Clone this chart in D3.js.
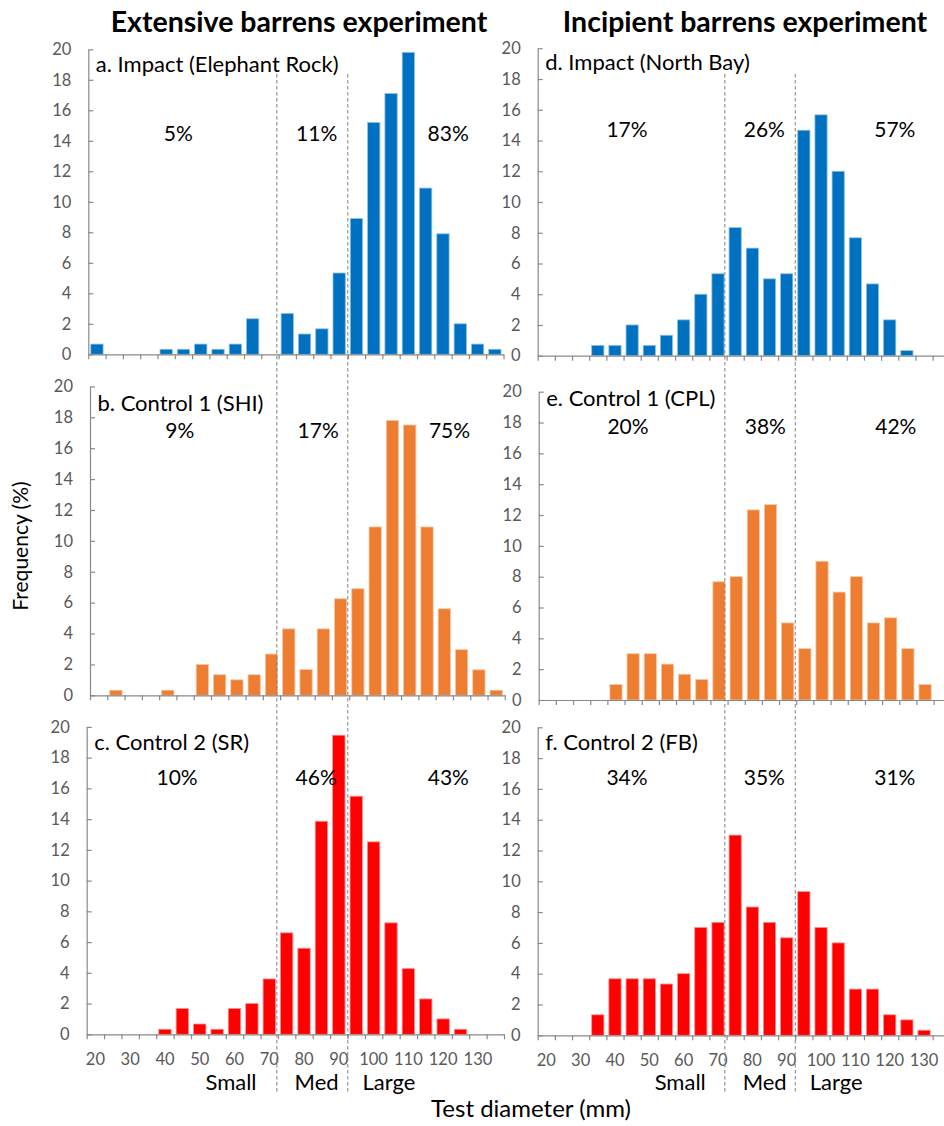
<!DOCTYPE html>
<html>
<head>
<meta charset="utf-8">
<script src="https://cdn.jsdelivr.net/npm/d3@7"></script>
<style>
  html, body { margin: 0; padding: 0; background: #fff; }
  svg { display: block; font-family: Lato, "Open Sans", sans-serif; }
</style>
</head>
<body>
<svg id="chart" width="944" height="1126"></svg>
<script>
// 5 mm test-diameter bins (bin label = lower bound, mm)
const diameters = [20, 25, 30, 35, 40, 45, 50, 55, 60, 65, 70, 75, 80, 85, 90, 95, 100, 105, 110, 115, 120, 125, 130, 135];
const diameterTickLabels = [20, 30, 40, 50, 60, 70, 80, 90, 100, 110, 120, 130];
const frequencyTicks = [0, 2, 4, 6, 8, 10, 12, 14, 16, 18, 20];

// Size classes and the diameters (mm) separating them
const sizeClasses = ["Small", "Med", "Large"];
const classBreaks = [72, 92.5];

// Frequency (%) of urchins in each bin
const impactElephantRock = [0.67, 0, 0, 0, 0.33, 0.33, 0.67, 0.33, 0.67, 2.33, 0, 2.67, 1.33, 1.67, 5.33, 8.9, 15.2, 17.1, 19.8, 10.9, 7.9, 2.0, 0.67, 0.33];
const control1SHI        = [0, 0.33, 0, 0, 0.33, 0, 2.0, 1.33, 1.0, 1.33, 2.67, 4.3, 1.67, 4.3, 6.25, 6.9, 10.9, 17.8, 17.5, 10.9, 5.6, 2.95, 1.65, 0.33];
const control2SR         = [0, 0, 0, 0, 0.33, 1.67, 0.67, 0.33, 1.67, 2.0, 3.6, 6.6, 5.6, 13.86, 19.46, 15.49, 12.52, 7.25, 4.27, 2.3, 1.0, 0.33, 0, 0];
const impactNorthBay     = [0, 0, 0, 0.67, 0.67, 2.0, 0.67, 1.33, 2.33, 4.0, 5.33, 8.33, 7.0, 5.0, 5.33, 14.67, 15.67, 12.0, 7.67, 4.67, 2.33, 0.33, 0, 0];
const control1CPL        = [0, 0, 0, 0, 1.0, 3.0, 3.0, 2.33, 1.67, 1.33, 7.67, 8.0, 12.33, 12.67, 5.0, 3.33, 9.0, 7.0, 8.0, 5.0, 5.33, 3.33, 1.0, 0];
const control2FB         = [0, 0, 0, 1.33, 3.67, 3.67, 3.67, 3.33, 4.0, 7.0, 7.33, 13.0, 8.33, 7.33, 6.33, 9.33, 7.0, 6.0, 3.0, 3.0, 1.33, 1.0, 0.33, 0];

// Share (%) of each size class: Small, Med, Large
const pctElephantRock = [5, 11, 83];
const pctSHI          = [9, 17, 75];
const pctSR           = [10, 46, 43];
const pctNorthBay     = [17, 26, 57];
const pctCPL          = [20, 38, 42];
const pctFB           = [34, 35, 31];

const columnTitles = ["Extensive barrens experiment", "Incipient barrens experiment"];
const panelTitles = ["a. Impact (Elephant Rock)", "b. Control 1 (SHI)", "c. Control 2 (SR)",
                     "d. Impact (North Bay)", "e. Control 1 (CPL)", "f. Control 2 (FB)"];
const siteColors = ["#0070C0", "#ED7D31", "#FF0000"];
const yTitle = "Frequency (%)";
const xTitle = "Test diameter (mm)";

// ---- layout ----
const svg = d3.select("#chart");
const axisColor = "#898989";
const tickTextColor = "#595959";
const step = 5; // mm per bin
const mmDomain = [diameters[0] - step / 2, diameters[diameters.length - 1] + step / 2];
// where the percentage labels sit (mm) for Small / Med / Large
const pctAnchorsMm = [43.5, 83.5, 121.5];
const classLabelMm = [59, 83.6, 104.4];

const panels = [
  { title: panelTitles[0], values: impactElephantRock, pct: pctElephantRock, color: siteColors[0],
    x0: 88.3, x1: 503.5, top: 49.3, bottom: 354.3, titleBase: 72.3, pctBase: 141, bottomRow: false },
  { title: panelTitles[1], values: control1SHI, pct: pctSHI, color: siteColors[1],
    x0: 90, x1: 504.8, top: 386.4, bottom: 695.3, titleBase: 411, pctBase: 438, bottomRow: false },
  { title: panelTitles[2], values: control2SR, pct: pctSR, color: siteColors[2],
    x0: 86.7, x1: 504, top: 726.9, bottom: 1034.3, titleBase: 750.3, pctBase: 784.5, bottomRow: true },
  { title: panelTitles[3], values: impactNorthBay, pct: pctNorthBay, color: siteColors[0],
    x0: 537.7, x1: 949.8, top: 48.3, bottom: 355.7, titleBase: 70, pctBase: 137, bottomRow: false },
  { title: panelTitles[4], values: control1CPL, pct: pctCPL, color: siteColors[1],
    x0: 538.7, x1: 950.8, top: 391.7, bottom: 700, titleBase: 406, pctBase: 434, bottomRow: false },
  { title: panelTitles[5], values: control2FB, pct: pctFB, color: siteColors[2],
    x0: 537.7, x1: 949.8, top: 727.3, bottom: 1035.3, titleBase: 750.3, pctBase: 785, bottomRow: true }
];

const binEdges = d3.range(mmDomain[0], mmDomain[1] + 0.1, step);

panels.forEach(p => {
  const xb = d3.scaleBand().domain(diameters).range([p.x0, p.x1])
    .paddingInner(0.29).paddingOuter(0.145);
  const xmm = d3.scaleLinear().domain(mmDomain).range([p.x0, p.x1]);
  const y = d3.scaleLinear().domain([0, 20]).range([p.bottom, p.top]);
  const g = svg.append("g");

  // bars
  g.append("g").selectAll("rect")
    .data(diameters.map((d, i) => ({ d, v: p.values[i] })).filter(e => e.v > 0))
    .join("rect")
    .attr("x", e => xb(e.d))
    .attr("width", xb.bandwidth())
    .attr("y", e => y(e.v))
    .attr("height", e => y(0) - y(e.v))
    .attr("fill", p.color)
    .attr("stroke", d3.interpolateRgb(p.color, "#ffffff")(0.55))
    .attr("stroke-width", 0.8);

  // y axis: ticks point into the plot
  const ya = g.append("g").attr("transform", `translate(${p.x0},0)`)
    .call(d3.axisLeft(y).tickValues(frequencyTicks).tickSizeInner(-5).tickSizeOuter(0).tickPadding(17));
  ya.select(".domain").attr("stroke", axisColor).attr("stroke-width", 1.2);
  ya.selectAll(".tick line").attr("stroke", axisColor).attr("stroke-width", 1.2);
  ya.selectAll(".tick text").attr("fill", tickTextColor).style("font-size", "16.5px").style("font-family", "Lato, sans-serif");

  // x axis: tick marks on bin edges
  const xa = g.append("g").attr("transform", `translate(0,${p.bottom})`)
    .call(d3.axisBottom(xmm).tickValues(binEdges).tickSize(5).tickSizeOuter(0).tickFormat(""));
  xa.select(".domain").attr("stroke", axisColor).attr("stroke-width", 1.2);
  xa.selectAll(".tick line").attr("stroke", axisColor).attr("stroke-width", 1.2);

  if (p.bottomRow) {
    const xl = g.append("g").attr("transform", `translate(0,${p.bottom})`)
      .call(d3.axisBottom(xb).tickValues(diameterTickLabels).tickSize(0).tickPadding(19));
    xl.select(".domain").remove();
    xl.selectAll(".tick text").attr("fill", tickTextColor).style("font-size", "16.5px").style("font-family", "Lato, sans-serif");

    // size-class names under the axis
    g.append("g").selectAll("text").data(sizeClasses).join("text")
      .attr("x", (c, i) => xmm(classLabelMm[i]))
      .attr("y", 1090)
      .attr("text-anchor", "middle")
      .style("font-size", "22px")
      .attr("fill", "#000")
      .text(c => c);
  }

  // panel title
  g.append("text")
    .attr("x", p.x0 + 7.5)
    .attr("y", p.titleBase)
    .style("font-size", "22px")
    .attr("fill", "#000")
    .text(p.title);

  // class percentages
  g.append("g").selectAll("text").data(p.pct).join("text")
    .attr("x", (v, i) => xmm(pctAnchorsMm[i]))
    .attr("y", p.pctBase)
    .attr("text-anchor", "middle")
    .style("font-size", "21px")
    .attr("fill", "#000")
    .text(v => v + "%");
});

// class boundaries, drawn once per column through all three panels
[panels[0], panels[3]].forEach(p => {
  const xmm = d3.scaleLinear().domain(mmDomain).range([p.x0, p.x1]);
  svg.append("g").selectAll("line").data(classBreaks).join("line")
    .attr("x1", b => xmm(b)).attr("x2", b => xmm(b))
    .attr("y1", 74).attr("y2", 1092)
    .attr("stroke", "#808080")
    .attr("stroke-width", 1)
    .attr("stroke-dasharray", "3.5,2.5");
});

// column headings
svg.append("g").selectAll("text").data(columnTitles).join("text")
  .attr("x", (t, i) => [299, 745][i])
  .attr("y", 32)
  .attr("text-anchor", "middle")
  .style("font-size", "28.5px")
  .style("font-weight", "bold")
  .attr("fill", "#000")
  .text(t => t);

// axis titles
svg.append("text")
  .attr("transform", "translate(28,546) rotate(-90)")
  .attr("text-anchor", "middle")
  .style("font-size", "21px")
  .attr("fill", "#000")
  .text(yTitle);

svg.append("text")
  .attr("x", 531)
  .attr("y", 1117)
  .attr("text-anchor", "middle")
  .style("font-size", "24px")
  .attr("fill", "#000")
  .text(xTitle);
</script>
</body>
</html>
